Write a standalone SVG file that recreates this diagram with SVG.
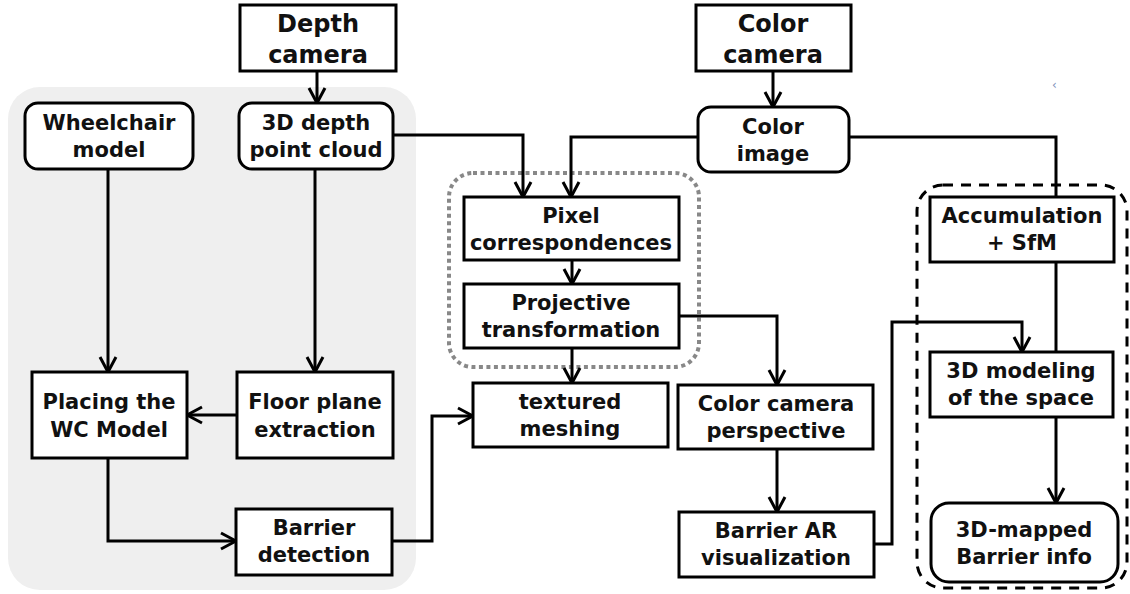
<svg xmlns="http://www.w3.org/2000/svg" width="1130" height="594" viewBox="0 0 1130 594">
<style>
.box{fill:#fff;stroke:#000;stroke-width:3}
.t{font-family:"DejaVu Sans",Verdana,sans-serif;font-weight:bold;font-size:21px;text-anchor:middle;fill:#111}
.tc{font-size:24px}
.c{fill:none;stroke:#000;stroke-width:3;stroke-linejoin:miter}
.a{marker-end:url(#arr)}
</style>
<defs>
<marker id="arr" viewBox="0 0 20 20" refX="17" refY="10" markerWidth="20" markerHeight="20" markerUnits="userSpaceOnUse" orient="auto">
<path d="M2,2 L17,10 L2,18" fill="none" stroke="#000" stroke-width="3" stroke-linejoin="round"/>
</marker>
</defs>
<rect width="1130" height="594" fill="#fff"/>
<g id="panel"><rect x="8" y="87" width="408" height="503" rx="32" fill="#efefef"/></g>
<g id="group-dotted"><rect x="449" y="173" width="250" height="194" rx="24" fill="none" stroke="#888" stroke-width="4" stroke-dasharray="4 3.5"/></g>
<g id="group-dashed"><rect x="917" y="185" width="210" height="403" rx="26" fill="none" stroke="#000" stroke-width="3" stroke-dasharray="10 8"/></g>

<g id="connectors">
<path class="c a" d="M317,71 V103"/>
<path class="c a" d="M773,71 V107"/>
<path class="c a" d="M108,169 V372"/>
<path class="c a" d="M315,169 V372"/>
<path class="c a" d="M237,415 H187"/>
<path class="c a" d="M108,458 V541 H236"/>
<path class="c a" d="M392,541 H432 V416 H473"/>
<path class="c a" d="M393,135 H523 V197"/>
<path class="c a" d="M698,137 H571 V197"/>
<path class="c a" d="M572,260 V284"/>
<path class="c a" d="M572,348 V383"/>
<path class="c a" d="M679,316 H777 V385"/>
<path class="c a" d="M777,449 V512"/>
<path class="c a" d="M874,544 H892 V322 H1022 V352"/>
<path class="c" d="M849,137 H1056 V197"/>
<path class="c" d="M1056,262 V352"/>
<path class="c a" d="M1056,417 V503"/>
</g>

<g id="depth-camera"><rect class="box" x="240" y="5" width="156" height="66"/>
<text class="t tc" x="318" y="32">Depth</text><text class="t tc" x="318" y="63">camera</text></g>
<g id="color-camera"><rect class="box" x="696" y="5" width="155" height="66"/>
<text class="t tc" x="773" y="32">Color</text><text class="t tc" x="773" y="63">camera</text></g>
<g id="wheelchair-model"><rect class="box" x="25" y="103" width="168" height="66" rx="13"/>
<text class="t" x="109" y="130">Wheelchair</text><text class="t" x="109" y="157">model</text></g>
<g id="point-cloud"><rect class="box" x="239" y="103" width="154" height="66" rx="13"/>
<text class="t" x="316" y="130">3D depth</text><text class="t" x="316" y="157">point cloud</text></g>
<g id="color-image"><rect class="box" x="698" y="107" width="151" height="65" rx="13"/>
<text class="t" x="773" y="134">Color</text><text class="t" x="773" y="161">image</text></g>
<g id="pixel-corr"><rect class="box" x="464" y="197" width="215" height="63"/>
<text class="t" x="571" y="223">Pixel</text><text class="t" x="571" y="250">correspondences</text></g>
<g id="projective"><rect class="box" x="464" y="284" width="215" height="64"/>
<text class="t" x="571" y="310">Projective</text><text class="t" x="571" y="337">transformation</text></g>
<g id="accumulation"><rect class="box" x="930" y="197" width="184" height="65"/>
<text class="t" x="1022" y="223">Accumulation</text><text class="t" x="1022" y="250">+ SfM</text></g>
<g id="placing"><rect class="box" x="32" y="372" width="155" height="86"/>
<text class="t" x="109" y="409">Placing the</text><text class="t" x="109" y="437">WC Model</text></g>
<g id="floor-plane"><rect class="box" x="237" y="372" width="156" height="86"/>
<text class="t" x="315" y="409">Floor plane</text><text class="t" x="315" y="437">extraction</text></g>
<g id="textured-meshing"><rect class="box" x="473" y="383" width="195" height="64"/>
<text class="t" x="570" y="409">textured</text><text class="t" x="570" y="436">meshing</text></g>
<g id="color-persp"><rect class="box" x="678" y="385" width="195" height="64"/>
<text class="t" x="776" y="411">Color camera</text><text class="t" x="776" y="438">perspective</text></g>
<g id="modeling"><rect class="box" x="930" y="352" width="183" height="65"/>
<text class="t" x="1021" y="378">3D modeling</text><text class="t" x="1021" y="405">of the space</text></g>
<g id="barrier-detection"><rect class="box" x="236" y="509" width="156" height="66"/>
<text class="t" x="314" y="535">Barrier</text><text class="t" x="314" y="562">detection</text></g>
<g id="barrier-ar"><rect class="box" x="679" y="512" width="195" height="65"/>
<text class="t" x="776" y="538">Barrier AR</text><text class="t" x="776" y="565">visualization</text></g>
<g id="mapped-info"><rect class="box" x="931" y="503" width="187" height="79" rx="18"/>
<text class="t" x="1024" y="537">3D-mapped</text><text class="t" x="1024" y="564">Barrier info</text></g>
<text x="1052" y="89" font-family="DejaVu Sans,sans-serif" font-size="12" fill="#8090b8">‹</text>
</svg>
